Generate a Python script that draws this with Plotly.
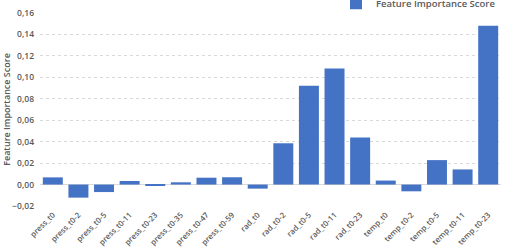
import plotly.graph_objects as go

categories = ["press_t0", "press_t0-2", "press_t0-5", "press_t0-11", "press_t0-23",
              "press_t0-35", "press_t0-47", "press_t0-59", "rad_t0", "rad_t0-2",
              "rad_t0-5", "rad_t0-11", "rad_t0-23", "temp_t0", "temp_t0-2",
              "temp_t0-5", "temp_t0-11", "temp_t0-23"]
scores = [0.0067, -0.0122, -0.0070, 0.0033, -0.0005,
          0.0021, 0.0064, 0.0068, -0.0038, 0.0385,
          0.0922, 0.1083, 0.0440, 0.0037, -0.0063,
          0.0228, 0.0141, 0.1480]
tick_vals = [-0.02, 0.0, 0.02, 0.04, 0.06, 0.08, 0.10, 0.12, 0.14, 0.16]

fig = go.Figure()
fig.add_trace(go.Bar(x=categories, y=scores, name="Feature Importance Score",
                     marker=dict(color="#4472C4", line=dict(width=0)),
                     showlegend=True))

fig.update_layout(
    width=506, height=252,
    margin=dict(l=40, r=5, t=13, b=46, autoexpand=False),
    paper_bgcolor="white", plot_bgcolor="white",
    separators=", ",
    bargap=0.22,
    font=dict(family="Open Sans", color="#595959", weight=600),
    showlegend=True,
    legend=dict(x=1.0, xanchor="right", y=1.05, yanchor="middle",
                orientation="h", font=dict(size=9.5, color="#595959", family="Open Sans", weight=600),
                bgcolor="rgba(0,0,0,0)", itemwidth=30),
    xaxis=dict(tickangle=-45, tickfont=dict(size=7.8, color="#595959", weight=600),
               showgrid=False, showline=False, ticks="", ticklabelstandoff=2),
    yaxis=dict(range=[-0.02, 0.16], tickvals=tick_vals, tickformat=".2f",
               tickfont=dict(size=8.5, color="#595959", weight=600),
               showgrid=True, gridcolor="#D9D9D9", griddash="dot", gridwidth=1,
               zeroline=True, zerolinecolor="#D9D9D9", zerolinewidth=1,
               showline=False, ticks="", ticklabelstandoff=5,
               title=dict(text="Feature Importance Score",
                          font=dict(size=9, color="#595959", weight=600),
                          standoff=5)),
)

fig.write_html("out.html")
